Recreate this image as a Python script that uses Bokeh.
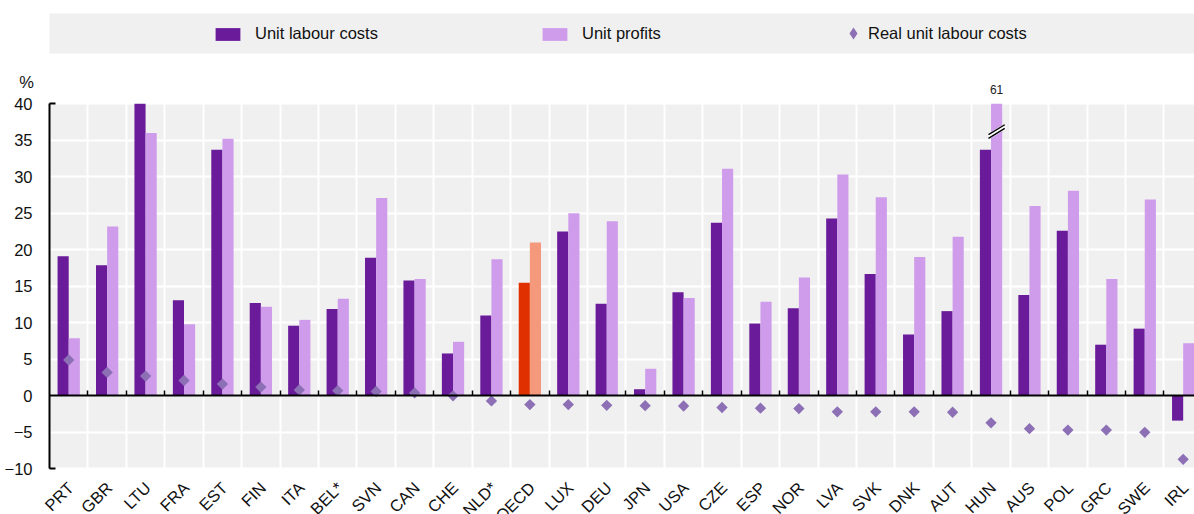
import numpy as np
from bokeh.plotting import figure
from bokeh.models import (Range1d, FixedTicker, SingleIntervalTicker, Legend, LegendItem,
                          LabelSet, Label, ColumnDataSource, BoxAnnotation, LinearAxis)
from bokeh.core.properties import value
from bokeh.embed import file_html
from bokeh.resources import INLINE

# ---------------- data ----------------
countries = ["PRT", "GBR", "LTU", "FRA", "EST", "FIN", "ITA", "BEL*", "SVN", "CAN",
             "CHE", "NLD*", "OECD", "LUX", "DEU", "JPN", "USA", "CZE", "ESP", "NOR",
             "LVA", "SVK", "DNK", "AUT", "HUN", "AUS", "POL", "GRC", "SWE", "IRL"]
unit_labour_costs = [19.1, 17.9, 40.0, 13.1, 33.7, 12.7, 9.6, 11.9, 18.9, 15.8,
                     5.8, 11.0, 15.5, 22.5, 12.6, 0.9, 14.2, 23.7, 9.9, 12.0,
                     24.3, 16.7, 8.4, 11.6, 33.7, 13.8, 22.6, 7.0, 9.2, -3.4]
unit_profits = [7.9, 23.2, 36.0, 9.8, 35.2, 12.2, 10.4, 13.3, 27.1, 16.0,
                7.4, 18.7, 21.0, 25.0, 23.9, 3.7, 13.4, 31.1, 12.9, 16.2,
                30.3, 27.2, 19.0, 21.8, 61.0, 26.0, 28.1, 16.0, 26.9, 7.2]
real_unit_labour_costs = [4.9, 3.2, 2.7, 2.1, 1.6, 1.2, 0.8, 0.7, 0.6, 0.4,
                          0.0, -0.7, -1.2, -1.2, -1.3, -1.35, -1.4, -1.6, -1.7, -1.75,
                          -2.2, -2.2, -2.2, -2.25, -3.7, -4.5, -4.7, -4.7, -5.0, -8.7]
highlight = "OECD"
y_min, y_max, y_step = -10, 40, 5

# ---------------- style / layout ----------------
FONT = "Liberation Sans"
C_ULC, C_UP = "#6A1B9A", "#CF9CEB"
C_ULC_H, C_UP_H = "#E03000", "#F4997B"
C_RULC = "#8C6FB4"
BG = "#F0F0F0"
TXT = "#111111"
W, H = 1194, 514
BAR_W = 0.29
PX_X = 38.43      # pixels per category
PX_Y = 7.3        # pixels per percentage point
AX_L = 49         # pixels from figure left to the value axis
TOP = 103.3       # pixels from figure top to the top of the value axis
STRIP = (13, 53)  # legend strip, pixels from figure top

n = len(countries)
idx = np.arange(n)
x0 = -0.5
x_start = x0 - AX_L / PX_X
x_end = x_start + W / PX_X
y_end = y_max + TOP / PX_Y
y_start = y_end - H / PX_Y

# bars are cut at the top of the scale (the value axis ends at y_max)
ulc_shown = np.clip(unit_labour_costs, y_min, y_max)
up_shown = np.clip(unit_profits, y_min, y_max)

src = ColumnDataSource(dict(
    idx=idx,
    x_ulc=idx - BAR_W / 2,
    x_up=idx + BAR_W / 2,
    ulc=ulc_shown,
    up=up_shown,
    rulc=real_unit_labour_costs,
    c_ulc=[C_ULC_H if c == highlight else C_ULC for c in countries],
    c_up=[C_UP_H if c == highlight else C_UP for c in countries],
    country=countries,
    label_y=[y_min] * n,
))

over = [i for i, v in enumerate(unit_profits) if v > y_max]
brk_y = y_max - 3.8
brk = ColumnDataSource(dict(
    x=[idx[i] + BAR_W / 2 for i in over],
    y=[brk_y] * len(over),
    ya=[brk_y - 0.25] * len(over),
    yb=[brk_y + 0.25] * len(over),
    ty=[y_max] * len(over),
    text=[f"{unit_profits[i]:g}" for i in over],
))

p = figure(width=W, height=H,
           x_range=Range1d(x_start, x_end), y_range=Range1d(y_start, y_end),
           output_backend="svg", toolbar_location=None, min_border=0,
           background_fill_color="white", border_fill_color="white",
           outline_line_color=None)

# grey plotting area
p.add_layout(BoxAnnotation(left=x0, right=x_end, bottom=y_min, top=y_max,
                           fill_color=BG, fill_alpha=1, line_color=None, level="image"))

boundaries = list(idx[:-1] + 0.5)
p.xgrid.ticker = FixedTicker(ticks=boundaries)
p.xgrid.grid_line_color = "white"
p.xgrid.grid_line_width = 2
p.ygrid.grid_line_color = "white"
p.ygrid.grid_line_width = 2

r_ulc = p.vbar(x="x_ulc", top="ulc", bottom=0, width=BAR_W, source=src,
               fill_color="c_ulc", line_color=None)
r_up = p.vbar(x="x_up", top="up", bottom=0, width=BAR_W, source=src,
              fill_color="c_up", line_color=None)

# axis break on the bar that runs off the scale
for col, lc, lw in (("y", "white", 5), ("ya", "black", 1.4), ("yb", "black", 1.4)):
    p.scatter(x="x", y=col, source=brk, marker="dash", size=19, angle=0.55,
              line_color=lc, line_width=lw)

p.scatter(x="idx", y="rulc", source=src, marker="square", angle=np.pi / 4, size=8,
          fill_color=C_RULC, line_color=None)
# same series as a diamond, used only for the legend swatch
r_rulc_leg = p.scatter(x="idx", y="rulc", source=src, marker="diamond", size=12,
                       fill_color=C_RULC, line_color=None, visible=False)

# x axis sits on the zero line; its ticks mark the category boundaries
xa = p.xaxis[0]
xa.fixed_location = 0
xa.bounds = (x0, x_end)
xa.ticker = FixedTicker(ticks=boundaries)
xa.axis_line_color = "black"
xa.axis_line_width = 2
xa.major_tick_in = 5
xa.major_tick_out = 0
xa.major_tick_line_color = "black"
xa.major_tick_line_width = 1.5
xa.minor_tick_line_color = None
xa.major_label_text_color = None

ya = p.yaxis[0]
ya.fixed_location = x0
ya.bounds = (y_min, y_max)
ya.ticker = SingleIntervalTicker(interval=y_step, num_minor_ticks=0)
ya.axis_line_color = "black"
ya.axis_line_width = 2
ya.major_tick_in = 0
ya.major_tick_out = 0
ya.minor_tick_line_color = None
ya.major_label_standoff = 17
ya.major_label_text_font = FONT
ya.major_label_text_font_size = "16.5px"
ya.major_label_text_color = TXT

cap = LinearAxis(fixed_location=x0, ticker=FixedTicker(ticks=[y_min, y_max]),
                 axis_line_color=None, major_tick_in=6, major_tick_out=0,
                 major_tick_line_color="black", major_tick_line_width=2,
                 minor_tick_line_color=None, major_label_text_color=None)
p.add_layout(cap, "left")

# legend strip
p.add_layout(BoxAnnotation(left=x0, right=x_end,
                           top=y_end - STRIP[0] / PX_Y, bottom=y_end - STRIP[1] / PX_Y,
                           fill_color=BG, fill_alpha=1, line_color=None))


def mk_leg(label, r, loc, gw, gh, standoff):
    return Legend(items=[LegendItem(label=label, renderers=[r])], location=loc,
                  orientation="horizontal", glyph_width=gw, glyph_height=gh,
                  label_standoff=standoff, padding=0, margin=0, spacing=0,
                  border_line_color=None, background_fill_alpha=0,
                  label_text_font=FONT, label_text_font_size="16.5px",
                  label_text_color=TXT)


leg_y = H - (STRIP[0] + STRIP[1]) / 2
p.add_layout(mk_leg("Unit labour costs", r_ulc, (212, leg_y - 10), 31, 16, 12))
p.add_layout(mk_leg("Unit profits", r_up, (539, leg_y - 10), 31, 16, 12))
p.add_layout(mk_leg("Real unit labour costs", r_rulc_leg, (838, leg_y - 15), 30, 30, 0))

# texts
p.add_layout(LabelSet(x="idx", y="label_y", text="country", source=src,
                      angle=np.pi / 4, text_align="right", text_baseline="middle",
                      x_offset=2, y_offset=-16,
                      text_font=value(FONT), text_font_size="16.5px", text_color=TXT))
p.add_layout(LabelSet(x="x", y="ty", text="text", source=brk,
                      text_align="center", text_baseline="middle", y_offset=14,
                      text_font=value(FONT), text_font_size="12px", text_color="#222222"))
p.add_layout(Label(x=x0, y=y_max, x_offset=-23, y_offset=22,
                   text="%", text_align="center", text_baseline="middle",
                   text_font=FONT, text_font_size="16.5px", text_color=TXT))

open("out.html", "w").write(file_html(p, INLINE))
